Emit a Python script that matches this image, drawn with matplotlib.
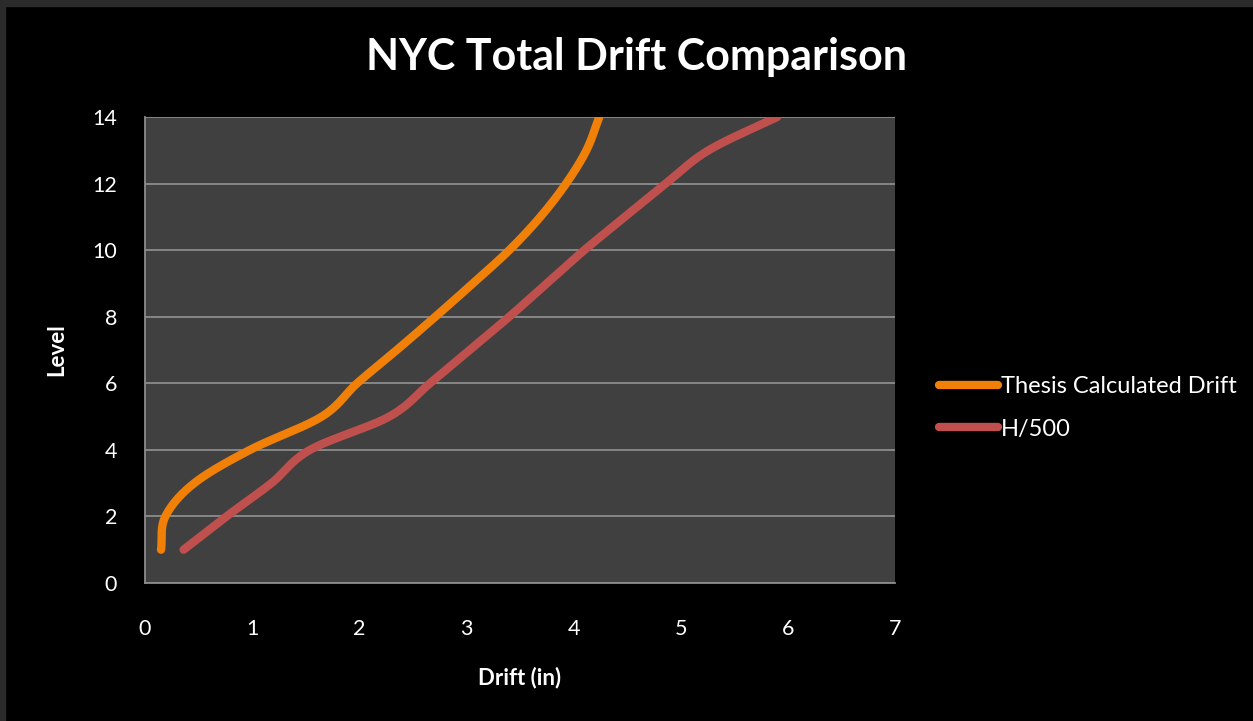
import numpy as np
import matplotlib.pyplot as plt
from matplotlib.patches import Rectangle

# data
levels = [1, 2, 3, 4, 5, 6, 7, 8, 9, 10, 11, 12, 13, 14]
thesis_drift = [0.15, 0.19, 0.46, 0.98, 1.65, 1.98, 2.35, 2.71, 3.06, 3.40, 3.69, 3.93, 4.12, 4.24]
h500_drift = [0.36, 0.76, 1.18, 1.54, 2.28, 2.66, 3.03, 3.40, 3.75, 4.10, 4.48, 4.86, 5.26, 5.90]

series_names = ["Thesis Calculated Drift", "H/500"]
series_colors = ["#F08008", "#C0504D"]


def smooth(x, y, n=30):
    # catmull-rom, roughly what excel does for "smoothed line"
    x = np.asarray(x, float)
    y = np.asarray(y, float)
    px = np.concatenate([[2 * x[0] - x[1]], x, [2 * x[-1] - x[-2]]])
    py = np.concatenate([[2 * y[0] - y[1]], y, [2 * y[-1] - y[-2]]])
    xs, ys = [], []
    t = np.linspace(0, 1, n)
    for i in range(1, len(px) - 2):
        for p, out in ((px, xs), (py, ys)):
            p0, p1, p2, p3 = p[i - 1], p[i], p[i + 1], p[i + 2]
            c1 = p1 + (p2 - p0) / 6
            c2 = p2 - (p3 - p1) / 6
            out.extend((1 - t) ** 3 * p1 + 3 * (1 - t) ** 2 * t * c1
                       + 3 * (1 - t) * t ** 2 * c2 + t ** 3 * p2)
    return np.array(xs), np.array(ys)


plt.rcParams['font.family'] = ['Lato', 'DejaVu Sans']

fig = plt.figure(figsize=(12.53, 7.21), dpi=100, facecolor='black')
# thin grey frame on top / left edge
fig.patches.append(Rectangle((0, 1 - 6 / 721), 1, 6 / 721, transform=fig.transFigure,
                             color='#2b2b2b', zorder=0))
fig.patches.append(Rectangle((0, 0), 5 / 1253, 1, transform=fig.transFigure,
                             color='#2b2b2b', zorder=0))

ax = fig.add_axes([145 / 1253, 1 - 583 / 721, 750 / 1253, 466 / 721])
ax.set_facecolor('#404040')

for xs, ys, name, c in zip([thesis_drift, h500_drift], [levels, levels], series_names, series_colors):
    sx, sy = smooth(xs, ys)
    ax.plot(sx, sy, color=c, lw=6, solid_capstyle='round', label=name)

ax.set_xlim(0, 7)
ax.set_ylim(0, 14)
ax.set_xticks(range(0, 8))
ax.set_yticks(range(0, 15, 2))
ax.grid(axis='y', color='#8c8c8c', lw=1.3)
ax.set_axisbelow(True)
ax.tick_params(length=0, colors='white', labelsize=15.5)
ax.tick_params(axis='y', pad=20)
ax.tick_params(axis='x', pad=26)
for s in ['top', 'right']:
    ax.spines[s].set_visible(False)
for s in ['left', 'bottom']:
    ax.spines[s].set_color('#8c8c8c')
    ax.spines[s].set_linewidth(1.3)

fig.text(637 / 1253, 1 - 57 / 721, "NYC Total Drift Comparison", color='white', fontsize=31,
         fontweight='bold', ha='center', va='center')
fig.text(520 / 1253, 1 - 678 / 721, "Drift (in)", color='white', fontsize=16,
         fontweight='bold', ha='center', va='center')
fig.text(57 / 1253, 1 - 350 / 721, "Level", color='white', fontsize=16,
         fontweight='bold', ha='center', va='center', rotation=90)

leg = ax.legend(loc='center left', bbox_to_anchor=(930 / 1253, 1 - 408 / 721),
                bbox_transform=fig.transFigure, frameon=False, fontsize=17,
                labelcolor='white', handlelength=2.5, handletextpad=0.1,
                labelspacing=0.9, borderaxespad=0)

fig.savefig('out.png', dpi=100, facecolor='black')
